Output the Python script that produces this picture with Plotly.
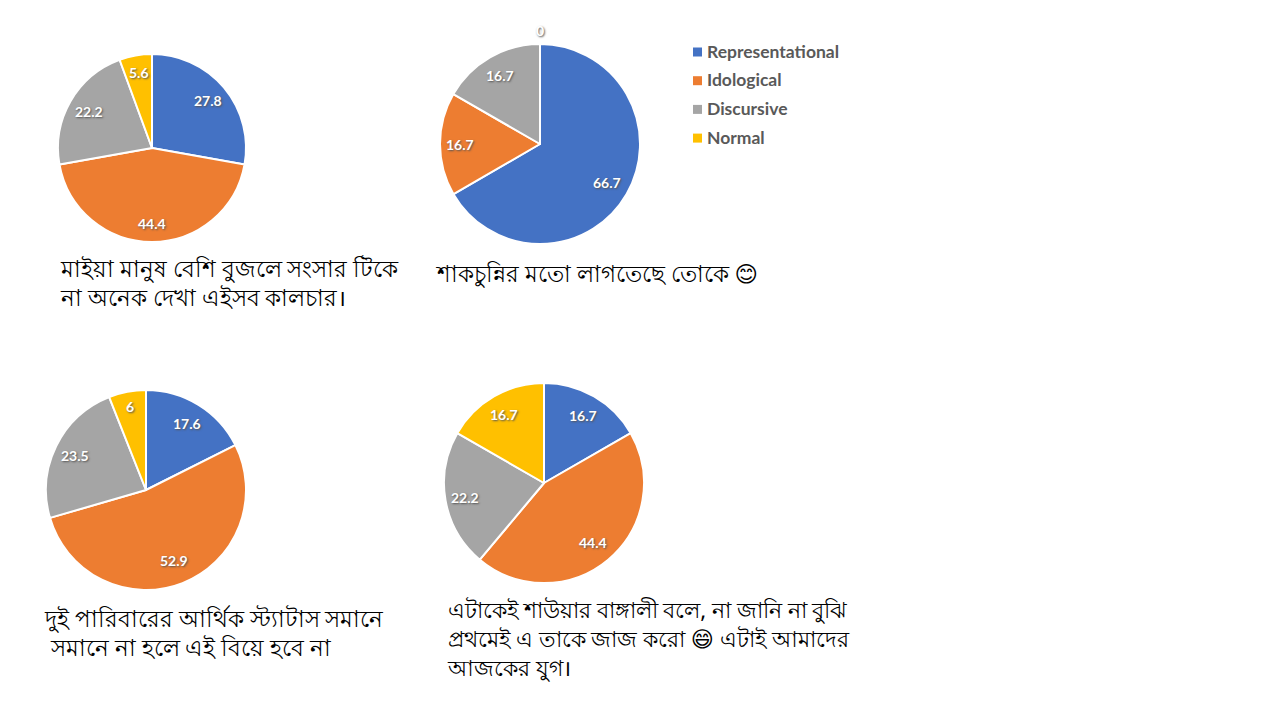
import math
import plotly.graph_objects as go

W, H = 1280, 720
PAGE = 8  # the page body adds this much on the left and top

categories = ["Representational", "Idological", "Discursive", "Normal"]
colors = ["#4472C4", "#ED7D31", "#A5A5A5", "#FFC000"]

values_1 = [27.8, 44.4, 22.2, 5.6]
values_2 = [66.7, 16.7, 16.7, 0]
values_3 = [17.6, 52.9, 23.5, 6]
values_4 = [16.7, 44.4, 22.2, 16.7]

caption_1 = "মাইয়া মানুষ বেশি বুজলে সংসার টিকে<br>না অনেক দেখা এইসব কালচার।"
caption_2 = "শাকচুন্নির মতো লাগতেছে তোকে 😊"
caption_3 = "দুই পারিবারের আর্থিক স্ট্যাটাস সমানে<br> সমানে না হলে এই বিয়ে হবে না"
caption_4 = "এটাকেই শাউয়ার বাঙ্গালী বলে, না জানি না বুঝি<br>প্রথমেই এ তাকে জাজ করো 😄 এটাই আমাদের<br>আজকের যুগ।"


def px(x):
    return (x - PAGE) / W


def py(y):
    return 1 - (y - PAGE) / H


label_font = dict(family="Lato", size=14, color="white", weight=700,
                  shadow="1px 1px 2px #555")

fig = go.Figure()
# values, centre, radius, how far out each value label sits
pies = [
    (values_1, 152, 148, 94, [0.78, 0.8, 0.77, 0.82]),
    (values_2, 540, 144, 100, [0.77, 0.8, 0.79, 0]),
    (values_3, 146, 490, 100, [0.78, 0.76, 0.79, 0.85]),
    (values_4, 544, 483, 100, [0.78, 0.77, 0.8, 0.79]),
]
for vals, cx, cy, r, out in pies:
    fig.add_trace(go.Pie(
        labels=categories, values=vals,
        domain=dict(x=[px(cx - r), px(cx + r)], y=[py(cy + r), py(cy - r)]),
        sort=False, direction="clockwise", rotation=0, showlegend=False,
        marker=dict(colors=colors, line=dict(color="white", width=2)),
        textinfo="none", hoverinfo="label+value",
    ))
    # value labels sit out towards the rim, at each slice's middle angle
    total = sum(vals)
    done = 0
    for v, f in zip(vals, out):
        mid = (done + v / 2) / total * 2 * math.pi
        done += v
        if v == 0:
            continue
        fig.add_annotation(text=str(v), x=px(cx + f * r * math.sin(mid)),
                           y=py(cy - f * r * math.cos(mid)), xanchor="center", yanchor="middle",
                           xref="paper", yref="paper", showarrow=False, font=label_font)

captions = [
    (caption_1, 58, 283, 22.5),
    (caption_2, 434, 273, 22.5),
    (caption_3, 42, 633, 22.5),
    (caption_4, 445, 638, 22.2),
]
for text, x, y, size in captions:
    fig.add_annotation(text=text, x=px(x), y=py(y), xref="paper", yref="paper",
                       xanchor="left", yanchor="middle", align="left", showarrow=False,
                       font=dict(family="Noto Sans, DejaVu Sans, sans-serif", size=size, color="black"))

# zero slice label sits outside the second pie
fig.add_annotation(text="0", x=px(540), y=py(30), xanchor="center", yanchor="middle",
                   xref="paper", yref="paper", showarrow=False, font=label_font)

# legend drawn by hand: the tight marker gap and row pitch are not reachable natively
for i, (name, color) in enumerate(zip(categories, colors)):
    y = 52 + i * 28.7
    fig.add_shape(type="rect", xref="paper", yref="paper", line_width=0, fillcolor=color,
                  x0=px(693), x1=px(702), y0=py(y - 4.5), y1=py(y + 4.5))
    fig.add_annotation(text=name, x=px(705), y=py(y - 1), yanchor="middle", xref="paper", yref="paper",
                       xanchor="left", showarrow=False,
                       font=dict(family="Lato", size=17.5, color="#595959", weight=700))

fig.update_layout(width=W, height=H, margin=dict(l=0, r=0, t=0, b=0), paper_bgcolor="white")
fig.write_html("out.html")
